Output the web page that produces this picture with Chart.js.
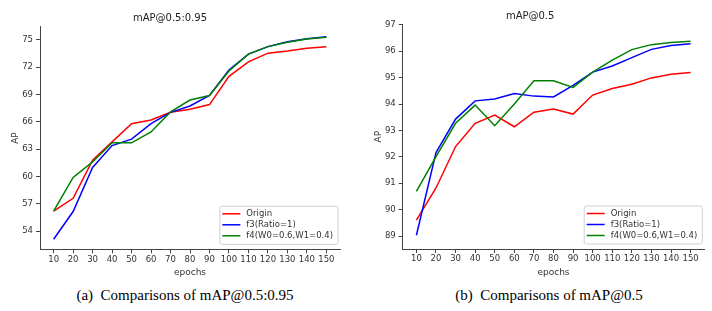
<!DOCTYPE html>
<html>
<head>
<meta charset="utf-8">
<script src="https://cdn.jsdelivr.net/npm/chart.js@4/dist/chart.umd.min.js"></script>
<style>
  html, body { margin: 0; padding: 0; background: #fff; }
  body { width: 712px; height: 311px; position: relative; overflow: hidden; }
  .box { position: absolute; top: 0; width: 356px; height: 285px; }
  .cap { position: absolute; top: 285px; font: 15px "Liberation Serif", "Times New Roman", serif;
         color: #000; white-space: pre; line-height: 21px; transform: translateX(-50%); }
</style>
</head>
<body>
<div class="box" style="left:0"><canvas id="c1" width="356" height="285"></canvas></div>
<div class="box" style="left:356px"><canvas id="c2" width="356" height="285"></canvas></div>
<div class="cap" style="left:185px">(a)  Comparisons of mAP@0.5:0.95</div>
<div class="cap" style="left:549px">(b)  Comparisons of mAP@0.5</div>
<script>
const epochs = [10, 20, 30, 40, 50, 60, 70, 80, 90, 100, 110, 120, 130, 140, 150];
const seriesNames = ['Origin', 'f3(Ratio=1)', 'f4(W0=0.6,W1=0.4)'];
const seriesColors = ['#ff0000', '#0000ff', '#008000'];

// mAP@0.5:0.95
const coarseOrigin = [56.2, 57.6, 61.8, 63.8, 65.8, 66.2, 67.05, 67.4, 67.9, 71.0, 72.6, 73.55, 73.8, 74.1, 74.27];
const coarseF3     = [53.1, 56.15, 61.0, 63.4, 64.1, 65.8, 67.05, 67.75, 68.9, 71.7, 73.45, 74.27, 74.8, 75.14, 75.36];
const coarseF4     = [56.2, 59.9, 61.6, 63.7, 63.7, 64.9, 67.1, 68.4, 68.9, 71.6, 73.45, 74.27, 74.74, 75.1, 75.3];
const coarseTicks  = [54, 57, 60, 63, 66, 69, 72, 75];

// mAP@0.5
const fineOrigin = [89.6, 90.82, 92.39, 93.27, 93.58, 93.14, 93.69, 93.81, 93.62, 94.34, 94.59, 94.75, 94.99, 95.13, 95.19];
const fineF3     = [89.03, 92.16, 93.43, 94.12, 94.19, 94.4, 94.3, 94.27, 94.71, 95.21, 95.44, 95.76, 96.07, 96.22, 96.28];
const fineF4     = [90.69, 92.01, 93.27, 93.96, 93.18, 94.0, 94.88, 94.88, 94.63, 95.21, 95.66, 96.06, 96.25, 96.33, 96.38];
const fineTicks  = [89, 90, 91, 92, 93, 94, 95, 96, 97];

Chart.defaults.font.family = '"DejaVu Sans", sans-serif';
Chart.defaults.color = '#333';

const boxLegend = {
  id: 'boxLegend',
  afterDatasetsDraw(chart) {
    const ctx = chart.ctx;
    const area = chart.chartArea;
    ctx.save();
    ctx.font = '8.5px "DejaVu Sans"';
    let tw = 0;
    chart.data.datasets.forEach(d => { tw = Math.max(tw, ctx.measureText(d.label).width); });
    const w = 3 + 18 + 6 + tw + 4.5;
    const h = 38;
    const x = area.right - 2.5 - w;
    const y = area.bottom - 5.5 - h;
    ctx.beginPath();
    ctx.roundRect(x + 0.5, y + 0.5, w, h, 2);
    ctx.fillStyle = 'rgba(255,255,255,0.9)';
    ctx.fill();
    ctx.strokeStyle = '#d0d0d0';
    ctx.lineWidth = 1;
    ctx.stroke();
    chart.data.datasets.forEach((d, i) => {
      const cy = y + 8 + i * 11;
      ctx.beginPath();
      ctx.moveTo(x + 3, cy);
      ctx.lineTo(x + 21, cy);
      ctx.strokeStyle = d.borderColor;
      ctx.lineWidth = 1.5;
      ctx.stroke();
      ctx.fillStyle = '#333';
      ctx.textBaseline = 'middle';
      ctx.fillText(d.label, x + 27, cy);
    });
    ctx.restore();
  }
};

function makeChart(id, title, values, yTicks, yMin, yMax, geo) {
  return new Chart(document.getElementById(id), {
    type: 'line',
    data: {
      datasets: values.map((arr, i) => ({
        label: seriesNames[i],
        data: epochs.map((e, j) => ({ x: e, y: arr[j] })),
        borderColor: seriesColors[i],
        backgroundColor: seriesColors[i],
        borderWidth: 1.5,
        pointRadius: 0,
        tension: 0,
        order: values.length - i   // later series on top, like the original
      }))
    },
    options: {
      responsive: false,
      animation: false,
      layout: { padding: { top: 0, left: 0, bottom: 0, right: geo.right } },
      plugins: {
        legend: { display: false },
        tooltip: { enabled: false },
        title: {
          display: true,
          text: title,
          color: '#222',
          font: { size: 10, weight: 'normal' },
          padding: { top: geo.titleTop, bottom: geo.titleBottom }
        }
      },
      scales: {
        x: {
          type: 'linear',
          min: 3, max: 157,
          afterBuildTicks: s => { s.ticks = epochs.map(v => ({ value: v })); },
          afterFit: s => { s.height = geo.xh; },
          ticks: { font: { size: 8.5 }, padding: 1, maxRotation: 0, autoSkip: false },
          grid: { drawOnChartArea: false, drawTicks: true, tickLength: 4, color: '#444' },
          border: { display: true, color: '#444', width: 1 },
          title: { display: true, text: 'epochs', font: { size: 9 }, color: '#333', padding: { top: 7, bottom: 7 } }
        },
        y: {
          min: yMin, max: yMax,
          afterBuildTicks: s => { s.ticks = yTicks.map(v => ({ value: v })); },
          afterFit: s => { s.width = geo.yw; },
          ticks: { font: { size: 8.5 }, padding: 3 },
          grid: { drawOnChartArea: false, drawTicks: true, tickLength: 4, color: '#444' },
          border: { display: true, color: '#444', width: 1 },
          title: { display: true, text: 'AP', font: { size: 9 }, color: '#333', padding: { top: geo.apPad, bottom: 0 } }
        }
      }
    },
    plugins: [boxLegend]
  });
}

makeChart('c1', 'mAP@0.5:0.95', [coarseOrigin, coarseF3, coarseF4], coarseTicks, 52.0, 76.46,
  { right: 16, titleTop: 12, titleBottom: 2.7, xh: 35.7, yw: 40, apPad: 10 });
makeChart('c2', 'mAP@0.5', [fineOrigin, fineF3, fineF4], fineTicks, 88.51, 97.02,
  { right: 7.7, titleTop: 10.7, titleBottom: 1.6, xh: 36, yw: 46.7, apPad: 17 });
</script>
</body>
</html>
